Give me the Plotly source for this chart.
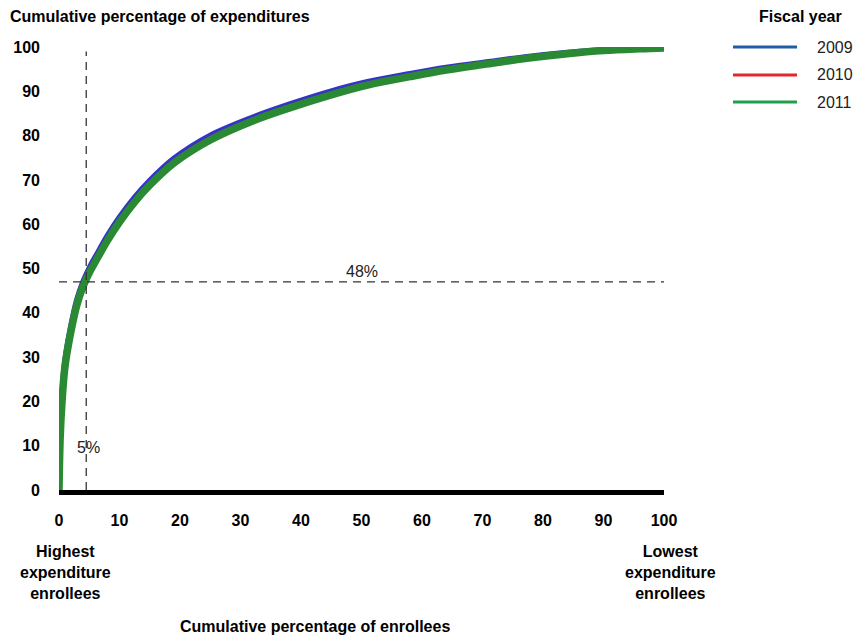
import plotly.graph_objects as go

# Cumulative percentage of enrollees (x) and expenditures (y)
pct_enrollees = [0, 0.2, 0.5, 1, 2, 3, 4, 5, 6.5, 8, 10, 12.5, 15, 19, 25, 32, 38,
                 45, 51, 58, 64, 71, 77, 84, 90, 96, 100]
exp_2009 = [0, 14, 21, 29, 37, 43, 47, 50, 53.7, 57.3, 61.5, 66, 69.8, 74.8, 80, 84.1,
            87.0, 90, 92.1, 93.9, 95.3, 96.6, 97.7, 98.7, 99.3, 99.6, 99.8]
exp_2010 = [0, 13, 20.5, 28.5, 36.5, 42.5, 46.5, 49.5, 53.2, 56.8, 61, 65.5, 69.3, 74.3,
            79.5, 83.7, 86.6, 89.6, 91.8, 93.6, 95.0, 96.4, 97.5, 98.6, 99.2, 99.6, 99.8]
exp_2011 = [0, 12, 20, 28, 36, 42, 46, 49, 52.7, 56.3, 60.5, 65, 68.8, 73.8, 79, 83.3,
            86.2, 89.2, 91.4, 93.3, 94.8, 96.2, 97.4, 98.5, 99.2, 99.6, 99.8]

years = ["2009", "2010", "2011"]
series = [exp_2009, exp_2010, exp_2011]
curve_colors = ["#3434c8", "#e0264a", "#2a8a34"]
legend_colors = ["#1f5ea6", "#e2282e", "#21a04a"]
widths = [6, 3.5, 7.5]

x_ticks = [0, 10, 20, 30, 40, 50, 60, 70, 80, 90, 100]
y_ticks = [0, 10, 20, 30, 40, 50, 60, 70, 80, 90, 100]

ref_x = 4.5    # 5% of enrollees
ref_y = 47     # 48% of expenditures

FONT = "Liberation Sans, Arial, sans-serif"

# page has an 8px body margin; target screen pixel p -> figure pixel p - 8
OFF = 8
W, H = 865 - OFF, 637 - OFF
L, R, T, B = 59 - OFF, 664 - OFF, 47 - OFF, 490 - OFF
def px(p):
    return (p - OFF - L) / (R - L)
def py(p):
    return (B - (p - OFF)) / (B - T)

fig = go.Figure()
for yr, ys, c, w in zip(years, series, curve_colors, widths):
    fig.add_trace(go.Scatter(
        x=pct_enrollees, y=ys, mode="lines", name=yr, showlegend=False,
        line=dict(color=c, width=w, shape="spline", smoothing=1.0),
    ))

fig.add_shape(type="line", xref="x", yref="y", x0=ref_x, x1=ref_x, y0=0, y1=99,
              line=dict(color="#333333", width=1.3, dash="8px,6px"))
fig.add_shape(type="line", xref="x", yref="y", x0=0, x1=100, y0=ref_y, y1=ref_y,
              line=dict(color="#333333", width=1.3, dash="8px,6px"))

bold = dict(size=16, family=FONT, color="black")
ann = [
    dict(text="48%", x=50, y=ref_y, xref="x", yref="y", xanchor="center",
         yanchor="bottom", showarrow=False, font=dict(size=16, family=FONT, color="#222")),
    dict(text="5%", x=4.8, y=9.7, xref="x", yref="y", xanchor="center",
         yanchor="middle", showarrow=False, font=dict(size=16, family=FONT, color="#222")),
    dict(text="<b>Highest<br>expenditure<br>enrollees</b>", x=px(65), y=py(572),
         xref="paper", yref="paper", xanchor="center", yanchor="middle",
         showarrow=False, font=bold),
    dict(text="<b>Lowest<br>expenditure<br>enrollees</b>", x=px(670), y=py(572),
         xref="paper", yref="paper", xanchor="center", yanchor="middle",
         showarrow=False, font=bold),
    dict(text="<b>Cumulative percentage of enrollees</b>", x=px(315), y=py(626),
         xref="paper", yref="paper", xanchor="center", yanchor="middle",
         showarrow=False, font=bold),
    dict(text="<b>Cumulative percentage of expenditures</b>", x=px(8), y=py(17),
         xref="paper", yref="paper", xanchor="left", yanchor="middle",
         showarrow=False, font=bold),
    dict(text="<b>Fiscal year</b>", x=px(757), y=py(17),
         xref="paper", yref="paper", xanchor="left", yanchor="middle",
         showarrow=False, font=bold),
]

# manual legend
legend_rows = [47, 75, 102]
for yr, c, row in zip(years, legend_colors, legend_rows):
    fig.add_shape(type="line", xref="paper", yref="paper",
                  x0=px(733), x1=px(797), y0=py(row), y1=py(row),
                  line=dict(color=c, width=3))
    ann.append(dict(text=yr, x=px(815), y=py(row), xref="paper", yref="paper",
                    xanchor="left", yanchor="middle", showarrow=False,
                    font=dict(size=16, family=FONT, color="#222")))

fig.update_layout(
    width=W, height=H,
    margin=dict(l=L, r=W - R, t=T, b=H - B),
    paper_bgcolor="white", plot_bgcolor="white",
    font=dict(family=FONT, size=16, color="black"),
    annotations=ann,
    showlegend=False,
    xaxis=dict(range=[0, 100], tickvals=x_ticks, showgrid=False, zeroline=False,
               showline=True, linecolor="black", linewidth=5, automargin=False,
               tickfont=dict(size=16, family=FONT, weight="bold"),
               ticks="", ticklabelstandoff=12, fixedrange=True),
    yaxis=dict(range=[0, 100], tickvals=y_ticks, showgrid=False, zeroline=False,
               showline=False, automargin=False,
               tickfont=dict(size=16, family=FONT, weight="bold"),
               ticks="", ticklabelstandoff=18, fixedrange=True),
)

fig.write_html("out.html")
